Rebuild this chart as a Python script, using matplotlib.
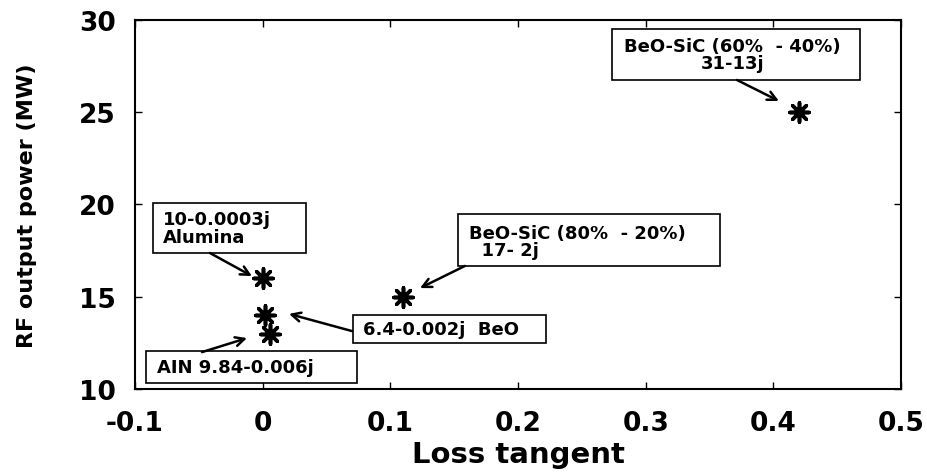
import numpy as np
import matplotlib.pyplot as plt
from matplotlib.patches import Rectangle

plt.rcParams['font.family'] = 'DejaVu Sans'
plt.rcParams['font.weight'] = 'bold'

# === data ===
loss_tangent = [0.0003, 0.002, 0.006, 0.11, 0.42]
rf_power = [16, 14, 13, 15, 25]
labels = ['10-0.0003j\nAlumina', '6.4-0.002j  BeO', 'AIN 9.84-0.006j',
          'BeO-SiC (80%  - 20%)\n  17- 2j', 'BeO-SiC (60%  - 40%)\n31-13j']

# === annotation layout (data coords) ===
# box: (x0, y0, x1, y1)
boxes = [(-0.0859, 17.37, 0.0339, 20.08),
         (0.0707, 12.49, 0.2218, 14.01),
         (-0.0914, 10.33, 0.0738, 12.06),
         (0.1529, 16.67, 0.358, 19.49),
         (0.2735, 26.75, 0.4677, 29.51)]
text_pos = [(-0.078, 18.73), (0.0785, 13.25), (-0.0828, 11.19), (0.1615, 18.0), (0.368, 28.14)]
text_ha = ['left', 'left', 'left', 'left', 'center']
arrow_tail = [(-0.0413, 17.37), (0.0699, 13.14), (-0.0475, 12.0), (0.1584, 16.67), (0.3714, 26.75)]
arrow_head = [(-0.0084, 16.12), (0.0206, 14.07), (-0.0123, 12.76), (0.1232, 15.47), (0.4043, 25.61)]

fig = plt.figure(figsize=(9.28, 4.77), dpi=100)
ax = fig.add_axes([0.1455, 0.1824, 0.8255, 0.7736])

ax.scatter(loss_tangent, rf_power, marker=(8, 2, 0), s=190, color='black', linewidths=2.6, zorder=3)

for lab, box, tp, ha, tail, head in zip(labels, boxes, text_pos, text_ha, arrow_tail, arrow_head):
    ax.add_patch(Rectangle((box[0], box[1]), box[2] - box[0], box[3] - box[1],
                           fc='white', ec='black', lw=1.2, zorder=2))
    ax.text(tp[0], tp[1], lab, fontsize=13, fontweight='bold', ha=ha, va='center',
            linespacing=0.95, zorder=4)
    ax.annotate('', xy=head, xytext=tail,
                arrowprops=dict(arrowstyle='->', color='black', lw=1.8, mutation_scale=16,
                                shrinkA=0, shrinkB=0))

ax.set_xlim(-0.1, 0.5)
ax.set_ylim(10, 30)
ax.set_xticks(np.arange(-0.1, 0.51, 0.1))
ax.set_xticklabels(['-0.1', '0', '0.1', '0.2', '0.3', '0.4', '0.5'])
ax.set_yticks([10, 15, 20, 25, 30])
ax.tick_params(direction='in', length=5, width=1, top=True, right=True, labelsize=19)
ax.tick_params(axis='x', pad=15)
ax.tick_params(axis='y', pad=14)
for lab in ax.get_xticklabels() + ax.get_yticklabels():
    lab.set_fontweight('bold')
for sp in ax.spines.values():
    sp.set_linewidth(1.5)

ax.set_xlabel('Loss tangent', fontsize=21, fontweight='bold', labelpad=3)
ax.set_ylabel('RF output power (MW)', fontsize=16, fontweight='bold', labelpad=30)

plt.savefig('out.png', dpi=100)
